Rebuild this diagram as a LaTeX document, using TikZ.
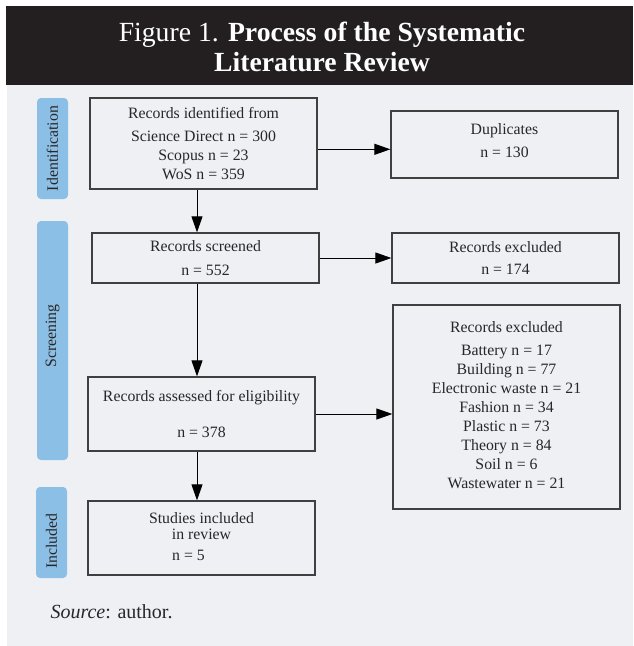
\documentclass[tikz,border=0pt]{standalone}
\usepackage{fontspec}
\setmainfont{Liberation Serif}
\usetikzlibrary{%
  arrows.meta,%
  positioning,% wg. " of "
  calc%
}
\definecolor{headdark}{RGB}{35,31,32}
\definecolor{panelgray}{RGB}{238,240,243}
\definecolor{tabblue}{RGB}{140,191,229}
\definecolor{inkgray}{RGB}{40,38,40}

\begin{document}
\begin{tikzpicture}
[x=1pt, y=-1pt, line width=1pt, >={Triangle[length=16pt,width=11pt]},
stage/.style={rectangle, draw=black!75, line width=1.3pt, minimum width=227pt, inner sep=2pt, align=center, text=inkgray, font=\fontsize{15.8}{19.1}\selectfont},
phase/.style={rectangle, rounded corners=4pt, fill=tabblue, minimum height=31pt, inner sep=0pt, rotate=90, text=inkgray, font=\fontsize{15.8}{19.1}\selectfont},
flow/.style={->, draw=black, line width=1pt}]

\useasboundingbox (0,0) rectangle (633,646);
\fill[white] (0,0) rectangle (633,646);
\fill[headdark] (6,6) rectangle (633,85);
\fill[panelgray] (6.5,85) rectangle (633,646);

% title
\node[text=white, align=center, inner sep=0pt, font=\fontsize{27.7}{30}\selectfont] (title) at (322,47.3)
  {Figure 1. \textbf{Process of the Systematic}\\\textbf{Literature Review}};

% phases
\node[phase, minimum width=101pt] (idtab) at (52.5,148.5) {Identification};
\node[phase, minimum width=239pt] (sctab) at (52.5,340.5) {\hspace*{9pt}Screening};
\node[phase, minimum width=91pt] (intab) at (51.5,532.5) {Included\hspace*{17pt}};

% boxes
\node[stage, minimum height=91pt] (found) at (203.5,143.5)
  {Records identified from\\[3.9pt]Science Direct n = 300\\Scopus n = 23\\WoS n = 359};
\node[stage, minimum height=67pt, text depth=8pt] (dupl) at (504.5,144.5)
  {Duplicates\\[4.2pt]n = 130};
\node[stage, minimum height=50pt] (screen) at (205.5,258)
  {Records screened\\[4.2pt]n = 552};
\node[stage, minimum height=50pt] (excl) at (505.5,258)
  {Records excluded\\[2.2pt]n = 174};
\node[stage, minimum height=74pt] (assess) at (201.5,414)
  {Records assessed for eligibility\\[16.5pt]n = 378};
\node[stage, minimum height=204pt, text depth=3.5pt] (topics) at (506.5,407)
  {Records excluded\\[3.2pt]Battery n = 17\\Building n = 77\\Electronic waste n = 21\\Fashion n = 34\\Plastic n = 73\\Theory n = 84\\Soil n = 6\\Wastewater n = 21};
\node[stage, minimum height=74pt, text depth=3.4pt] (incl) at (201.5,538)
  {Studies included\\[-3.4pt]in review\\[1.9pt]n = 5\hspace*{26pt}};

% arrows
\coordinate (spine) at (197,0);
\coordinate (dupline) at (0,149.3);
\draw[flow] (found.south -| spine) -- (screen.north -| spine);
\draw[flow] (screen.south -| spine) -- (assess.north -| spine);
\draw[flow] (assess.south -| spine) -- (incl.north -| spine);
\draw[flow] (found.east |- dupline) -- (dupl.west |- dupline);
\draw[flow] (screen.east) -- (excl.west);
\draw[flow] (assess.east) -- (assess.east -| topics.west);

\node[anchor=base west, inner sep=0pt, text=inkgray, font=\fontsize{20}{24}\selectfont] (source) at (50,618)
  {\textit{Source}: author.};

\end{tikzpicture}
\end{document}
